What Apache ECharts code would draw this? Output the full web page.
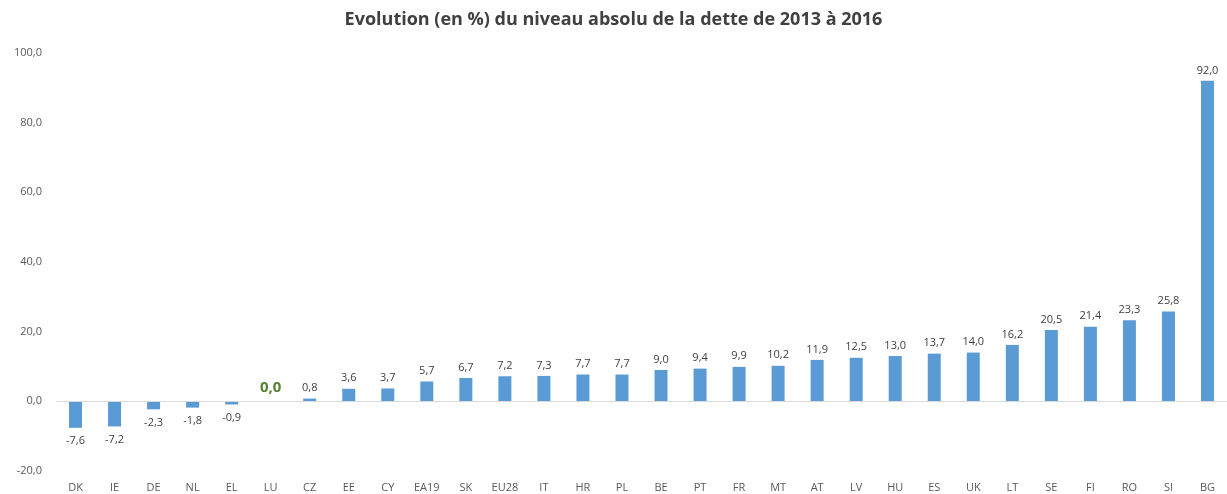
<!DOCTYPE html>
<html><head><meta charset="utf-8">
<script src="https://cdn.jsdelivr.net/npm/echarts@6/dist/echarts.min.js"></script>
<style>html,body{margin:0;padding:0;background:#fff}#c{width:1227px;height:494px}</style>
</head><body><div id="c"></div>
<script>
const categories = ['DK','IE','DE','NL','EL','LU','CZ','EE','CY','EA19','SK','EU28','IT','HR','PL','BE','PT','FR','MT','AT','LV','HU','ES','UK','LT','SE','FI','RO','SI','BG'];
const values = [-7.6,-7.2,-2.3,-1.8,-0.9,0.0,0.8,3.6,3.7,5.7,6.7,7.2,7.3,7.7,7.7,9.0,9.4,9.9,10.2,11.9,12.5,13.0,13.7,14.0,16.2,20.5,21.4,23.3,25.8,92.0];
const highlight = 'LU';
const fmt = v => v.toFixed(1).replace('.', ',');
const FONT = '"Open Sans", "Liberation Sans", sans-serif';
const data = values.map((v, i) => {
  const item = { value: v };
  if (categories[i] === highlight) {
    item.label = { color: '#548235', fontSize: 15, fontWeight: 'bold', distance: 6 };
  } else if (v < 0) {
    item.label = { position: 'bottom', distance: 8 };
  }
  return item;
});
const chart = echarts.init(document.getElementById('c'));
chart.setOption({
  animation: false,
  title: {
    text: 'Evolution (en %) du niveau absolu de la dette de 2013 à 2016',
    left: 'center', top: 6,
    textStyle: { fontFamily: FONT, fontSize: 18, fontWeight: 'bold', color: '#404040' }
  },
  grid: { left: 56, right: 0, top: 53, bottom: 23, containLabel: false },
  xAxis: {
    type: 'category', data: categories,
    axisLine: { show: false, onZero: false },
    axisTick: { show: false },
    axisLabel: { fontFamily: FONT, fontSize: 11, color: '#595959', margin: 11, interval: 0 }
  },
  yAxis: {
    type: 'value', min: -20, max: 100, interval: 20,
    axisLine: { show: false }, axisTick: { show: false }, splitLine: { show: false },
    axisLabel: { fontFamily: FONT, fontSize: 11, color: '#595959', margin: 14, formatter: v => fmt(v) }
  },
  series: [{
    type: 'bar', data: data, barWidth: 13,
    itemStyle: { color: '#5B9BD5' },
    label: {
      show: true, position: 'top', distance: 5,
      fontFamily: FONT, fontSize: 11, color: '#404040',
      formatter: p => fmt(p.value)
    },
    markLine: {
      silent: true, symbol: 'none', label: { show: false },
      lineStyle: { color: '#d9d9d9', width: 1, type: 'solid' },
      data: [{ yAxis: 0 }]
    }
  }]
});
</script></body></html>
